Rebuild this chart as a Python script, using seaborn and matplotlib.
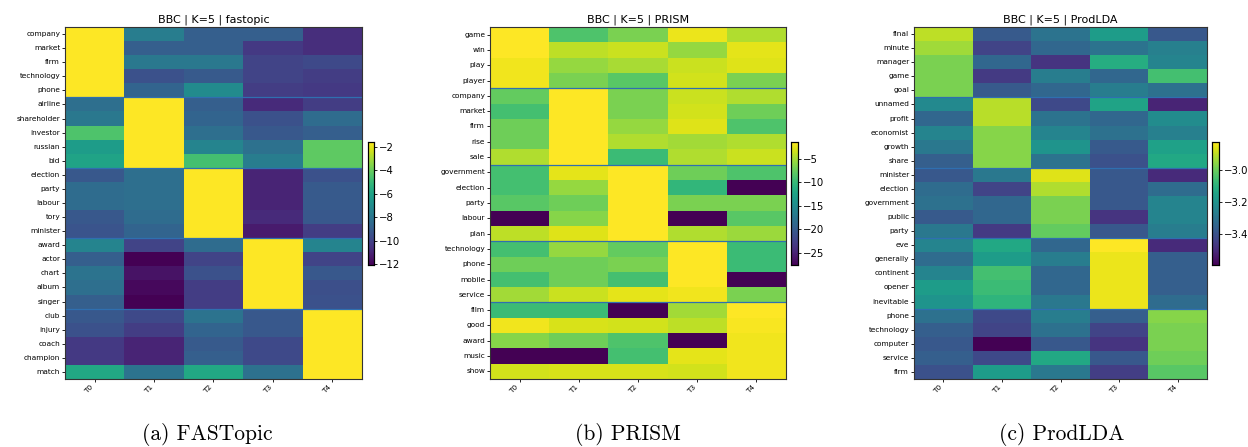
import numpy as np
import pandas as pd
import seaborn as sns
import matplotlib.pyplot as plt

topics = ['T0', 'T1', 'T2', 'T3', 'T4']

fast_words = ['company', 'market', 'firm', 'technology', 'phone',
              'airline', 'shareholder', 'investor', 'russian', 'bid',
              'election', 'party', 'labour', 'tory', 'minister',
              'award', 'actor', 'chart', 'album', 'singer',
              'club', 'injury', 'coach', 'champion', 'match']
fast_vals = [
    [-1.6, -7.66, -8.92, -8.92, -10.7],
    [-1.6, -8.92, -8.92, -10.3, -10.7],
    [-1.6, -7.87, -7.87, -9.96, -9.75],
    [-1.6, -9.44, -9.12, -9.96, -10.2],
    [-1.6, -8.71, -7.03, -10.2, -10.3],
    [-8.29, -1.6, -8.92, -10.8, -10.2],
    [-7.87, -1.6, -8.71, -9.44, -8.39],
    [-4.53, -1.6, -8.29, -9.23, -8.92],
    [-6.3, -1.6, -7.35, -8.18, -4.21],
    [-5.99, -1.6, -4.74, -7.66, -4.21],
    [-9.23, -8.29, -1.6, -11.0, -9.44],
    [-8.39, -8.29, -1.6, -11.0, -9.12],
    [-8.39, -8.29, -1.6, -11.0, -9.12],
    [-9.23, -8.39, -1.6, -10.8, -9.23],
    [-9.33, -8.71, -1.6, -11.3, -10.2],
    [-7.35, -9.96, -8.39, -1.6, -7.35],
    [-8.92, -12.05, -9.96, -1.6, -9.96],
    [-8.08, -11.53, -9.44, -1.6, -9.23],
    [-8.29, -11.84, -10.2, -1.6, -9.54],
    [-8.92, -12.05, -10.2, -1.6, -9.44],
    [-9.23, -9.75, -8.08, -9.23, -1.6],
    [-9.44, -10.2, -8.71, -9.23, -1.6],
    [-10.3, -11.0, -9.12, -9.75, -1.6],
    [-10.3, -11.0, -8.92, -9.75, -1.6],
    [-5.78, -8.08, -5.78, -8.18, -1.6],
]
fast_groups = [5, 10, 15, 20]

prism_words = ['game', 'win', 'play', 'player',
               'company', 'market', 'firm', 'rise', 'sale',
               'government', 'election', 'party', 'labour', 'plan',
               'technology', 'phone', 'mobile', 'service',
               'film', 'good', 'award', 'music', 'show']
prism_vals = [
    [-1.45, -8.77, -6.68, -2.23, -4.59],
    [-1.45, -4.07, -3.54, -5.63, -2.5],
    [-1.97, -5.63, -4.85, -3.54, -2.76],
    [-1.97, -6.68, -8.25, -3.28, -6.68],
    [-7.73, -1.45, -6.68, -3.54, -4.59],
    [-9.3, -1.45, -6.68, -3.28, -7.2],
    [-7.2, -1.45, -5.63, -2.76, -8.77],
    [-7.2, -1.45, -4.59, -5.11, -4.59],
    [-4.59, -1.45, -9.82, -4.59, -3.54],
    [-9.3, -2.5, -1.45, -7.2, -8.77],
    [-9.3, -5.63, -1.45, -10.34, -27.6],
    [-8.25, -7.2, -1.45, -6.68, -6.68],
    [-27.6, -6.16, -1.45, -27.6, -8.25],
    [-4.07, -2.76, -1.45, -4.59, -5.37],
    [-9.3, -5.63, -7.73, -1.45, -9.82],
    [-7.2, -7.2, -6.68, -1.45, -9.82],
    [-9.3, -7.2, -9.3, -1.45, -27.6],
    [-5.11, -3.54, -2.5, -1.97, -6.68],
    [-9.82, -9.82, -27.6, -5.11, -1.45],
    [-1.97, -3.02, -3.28, -4.07, -1.71],
    [-6.16, -7.2, -8.77, -27.6, -1.97],
    [-27.6, -27.6, -9.3, -2.5, -1.97],
    [-3.28, -3.02, -3.02, -3.28, -1.97],
]
prism_groups = [4, 9, 14, 18]

prod_words = ['final', 'minute', 'manager', 'game', 'goal',
              'unnamed', 'profit', 'economist', 'growth', 'share',
              'minister', 'election', 'government', 'public', 'party',
              'eve', 'generally', 'continent', 'opener', 'inevitable',
              'phone', 'technology', 'computer', 'service', 'firm']
prod_vals = [
    [-2.903, -3.38, -3.303, -3.173, -3.388],
    [-2.935, -3.442, -3.342, -3.303, -3.265],
    [-2.98, -3.342, -3.48, -3.119, -3.25],
    [-2.98, -3.465, -3.273, -3.342, -3.057],
    [-2.98, -3.38, -3.342, -3.273, -3.311],
    [-3.234, -2.91, -3.427, -3.15, -3.519],
    [-3.342, -2.91, -3.303, -3.342, -3.226],
    [-3.25, -2.965, -3.25, -3.311, -3.265],
    [-3.288, -2.965, -3.196, -3.38, -3.157],
    [-3.365, -2.965, -3.303, -3.404, -3.134],
    [-3.388, -3.288, -2.864, -3.388, -3.504],
    [-3.327, -3.442, -2.918, -3.388, -3.327],
    [-3.311, -3.342, -2.98, -3.388, -3.25],
    [-3.38, -3.342, -2.98, -3.48, -3.25],
    [-3.288, -3.465, -3.011, -3.388, -3.273],
    [-3.25, -3.134, -3.342, -2.826, -3.504],
    [-3.327, -3.173, -3.273, -2.849, -3.365],
    [-3.25, -3.057, -3.342, -2.849, -3.365],
    [-3.173, -3.072, -3.342, -2.849, -3.365],
    [-3.196, -3.096, -3.288, -2.849, -3.327],
    [-3.311, -3.427, -3.273, -3.365, -2.965],
    [-3.365, -3.442, -3.311, -3.442, -2.98],
    [-3.388, -3.596, -3.388, -3.48, -2.98],
    [-3.365, -3.427, -3.134, -3.388, -2.995],
    [-3.404, -3.173, -3.288, -3.457, -3.026],
]
prod_groups = [5, 10, 15, 20]

panels = [
    ('BBC | K=5 | fastopic', fast_words, fast_vals, fast_groups, [-2, -4, -6, -8, -10, -12], '{:.0f}', '(a) FASTopic'),
    ('BBC | K=5 | PRISM', prism_words, prism_vals, prism_groups, [-5, -10, -15, -20, -25], '{:.0f}', '(b) PRISM'),
    ('BBC | K=5 | ProdLDA', prod_words, prod_vals, prod_groups, [-3.0, -3.2, -3.4], '{:.1f}', '(c) ProdLDA'),
]

W, H = 1248, 447
# pixel boxes: heatmap (left, right), colorbar (left, right), caption centre
boxes = [
    ((65, 362), (368, 374), 207),
    ((490, 786), (791, 798), 628),
    ((914, 1207), (1212, 1219), 1062),
]

fig = plt.figure(figsize=(W / 100, H / 100), dpi=100)

for (title, words, vals, groups, cticks, fmt, caption), ((l, r), (cl, cr), cx) in zip(panels, boxes):
    ax = fig.add_axes([l / W, 1 - 379 / H, (r - l) / W, (379 - 27) / H])
    cax = fig.add_axes([cl / W, 1 - 265 / H, (cr - cl) / W, (265 - 142) / H])
    df = pd.DataFrame(vals, index=words, columns=topics)
    sns.heatmap(df, ax=ax, cmap='viridis', cbar_ax=cax,
                xticklabels=True, yticklabels=True,
                cbar_kws={'ticks': cticks})
    for g in groups:
        ax.axhline(g, color='#2f6fb0', lw=0.9)
    for s in ax.spines.values():
        s.set_visible(True)
        s.set_linewidth(0.8)
        s.set_color('#333333')
    ax.set_title(title, fontsize=8, pad=3)
    ax.set_ylabel('')
    plt.setp(ax.get_yticklabels(), rotation=0, fontsize=5.3)
    plt.setp(ax.get_xticklabels(), rotation=45, ha='right', fontsize=5.3)
    ax.tick_params(length=2, width=0.6, pad=1.5)
    cax.set_yticks(cticks)
    cax.set_yticklabels(['\u2212' + fmt.format(abs(t)) for t in cticks])
    cax.tick_params(labelsize=7.3, length=2, width=0.6, pad=1.5)
    for s in cax.spines.values():
        s.set_visible(True)
        s.set_linewidth(0.8)
    fig.text(cx / W, 1 - 434 / H, caption, ha='center', va='center',
             fontsize=15.5, family='cmr10')

fig.savefig('out.png', dpi=100)
